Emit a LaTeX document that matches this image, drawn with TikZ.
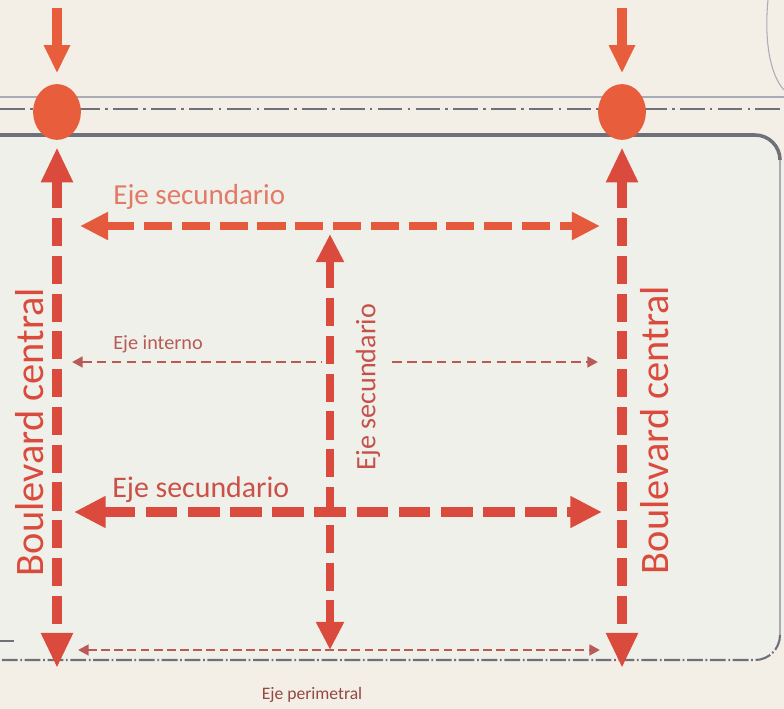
\documentclass[tikz,border=0pt]{standalone}
\usepackage{fontspec}
\setmainfont{Carlito}
\usetikzlibrary{arrows.meta,positioning,shapes.geometric}

\definecolor{fondo}{HTML}{F4EFE6}
\definecolor{bloque}{HTML}{F0F0EA}
\definecolor{rojo}{HTML}{DA4B3E}
\definecolor{naranja}{HTML}{E85D3C}
\definecolor{salmon}{HTML}{E27A66}
\definecolor{rojogris}{HTML}{B85A55}
\definecolor{gris}{HTML}{6F7079}
\definecolor{grisclaro}{HTML}{A9ABB5}

\begin{document}
\begin{tikzpicture}[x=0.02cm, y=-0.02cm,
  glorieta/.style={ellipse, fill=naranja, minimum width=48*0.567pt, minimum height=56*0.567pt, inner sep=0pt},
  entrada/.style={draw=naranja, line width=5.5pt, -{Triangle[length=16pt,width=14pt]}},
  boulevard/.style={draw=rojo, line width=5.7pt, dash pattern=on 16pt off 5.5pt,
    {Triangle[length=20pt,width=17pt]}-{Triangle[length=20pt,width=17pt]}},
  secundario/.style={draw=rojo, line width=5pt, dash pattern=on 16pt off 5.5pt,
    {Triangle[length=16pt,width=15pt]}-{Triangle[length=16pt,width=15pt]}},
  interno/.style={draw=rojogris, line width=1.6pt, dash pattern=on 5.5pt off 3pt},
  etiqueta/.style={inner sep=0pt, text=rojo},
]
\useasboundingbox (0,0) rectangle (784,709);
\fill[fondo] (0,0) rectangle (784,709);
\fill[bloque] (0,135) -- (755,135) arc[start angle=-90, end angle=0, radius=25] -- (780,635) arc[start angle=0, end angle=90, radius=25] -- (0,660) -- cycle;

% calle principal
\draw[grisclaro, line width=1.4pt] (0,97) -- (784,97);
\draw[gris, line width=1pt, dash pattern=on 14pt off 3pt on 1.5pt off 3pt] (0,109) -- (784,109);
\draw[gris, line width=2pt] (0,135) -- (755,135) arc[start angle=-90, end angle=0, radius=25];
\draw[grisclaro, line width=0.8pt] (780,160) -- (780,635);
\draw[gris, line width=1.2pt, dash pattern=on 9pt off 1.5pt on 1pt off 1.5pt] (780,635) arc[start angle=0, end angle=90, radius=25] -- (0,660);
\draw[grisclaro, line width=0.6pt] (768,0) .. controls (764,40) and (770,75) .. (784,90);
\draw[gris, line width=0.8pt] (0,641) -- (14,641);

% glorietas
\node[glorieta] (glorietaI) at (57,112) {};
\node[glorieta] (glorietaD) at (622,112) {};

\coordinate (entradaI) at (57,8);
\coordinate (entradaD) at (622,8);
\draw[entrada, shorten >=6pt] (entradaI) -- (glorietaI.north);
\draw[entrada, shorten >=6pt] (entradaD) -- (glorietaD.north);

% boulevard central
\coordinate (finI) at (57,668);
\coordinate (finD) at (622,668);
\draw[boulevard, shorten <=4pt] (glorietaI.south) -- (finI);
\draw[boulevard, shorten <=4pt] (glorietaD.south) -- (finD);

% ejes secundarios
\coordinate (sec1I) at (80,226);
\coordinate (sec1D) at (600,226);
\coordinate (sec2I) at (74,512);
\coordinate (sec2D) at (602,512);
\coordinate (sec3N) at (330,234);
\coordinate (sec3S) at (330,650);
\draw[secundario, draw=naranja!80!rojo] (sec1I) -- (sec1D);
\draw[secundario, line width=6pt, dash pattern=on 18pt off 6pt,
  {Triangle[length=18pt,width=17pt]}-{Triangle[length=18pt,width=17pt]}] (sec2I) -- (sec2D);
\draw[secundario] (sec3N) -- (sec3S);

% eje interno
\coordinate (intI) at (72,362);
\coordinate (intIm) at (322,362);
\coordinate (intDm) at (392,362);
\coordinate (intD) at (598,362);
\draw[interno, {Triangle[length=6pt,width=6pt]}-] (intI) -- (intIm);
\draw[interno, -{Triangle[length=6pt,width=6pt]}] (intDm) -- (intD);

% eje perimetral
\coordinate (perI) at (78,650);
\coordinate (perD) at (600,650);
\draw[interno, dash pattern=on 5pt off 2.5pt, {Triangle[length=6pt,width=6pt]}-{Triangle[length=6pt,width=6pt]}] (perI) -- (perD);

% textos
\node[etiqueta, rotate=90, font=\fontsize{23}{26}\selectfont] (boulI) at (30,432) {Boulevard central};
\node[etiqueta, rotate=90, font=\fontsize{23}{26}\selectfont] (boulD) at (655,430) {Boulevard central};
\node[etiqueta, text=salmon, font=\fontsize{16.5}{19}\selectfont, anchor=south west] (secTxt1) at (113,210) {Eje secundario};
\node[etiqueta, text=rojo!85!gris, font=\fontsize{17}{20}\selectfont, anchor=south west] (secTxt2) at (112,503) {Eje secundario};
\node[etiqueta, text=rojo!80!gris, rotate=90, font=\fontsize{16}{19}\selectfont] (secTxt3) at (368,387) {Eje secundario};
\node[etiqueta, text=rojogris, font=\fontsize{11.5}{13}\selectfont, anchor=south west] (intTxt) at (113,353) {Eje interno};
\node[etiqueta, text=rojogris!80!black, font=\fontsize{10}{12}\selectfont] (perTxt) at (312,695) {Eje perimetral};

\end{tikzpicture}
\end{document}
